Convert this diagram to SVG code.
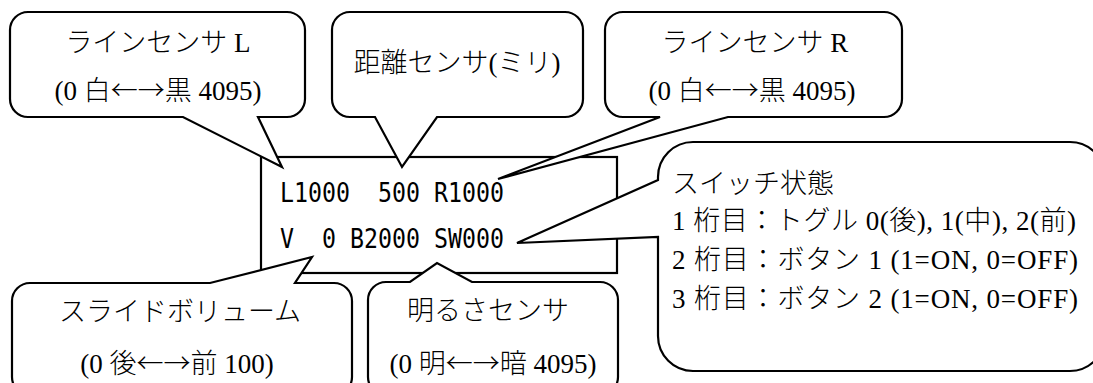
<svg xmlns="http://www.w3.org/2000/svg" width="1093" height="383" viewBox="0 0 1093 383">
<style>
.co{fill:#fff;stroke:#000;stroke-width:2.2;stroke-linejoin:miter}
.bx{fill:#fff;stroke:#000;stroke-width:2.2}
.t{font-family:"Liberation Serif","Noto Sans CJK JP",serif;font-size:27px;font-weight:300;fill:#000}
.m{text-anchor:middle}
.ar{font-family:"Noto Sans CJK JP","Liberation Serif",serif}
.mono{font-family:"DejaVu Sans Mono","Liberation Mono",monospace;font-size:27px;fill:#000}
</style>
<rect width="1093" height="383" fill="#fff"/>
<g id="display">
<rect class="bx" x="261" y="157" width="356" height="116"/>
<text class="mono" x="280" y="202" textLength="224" lengthAdjust="spacingAndGlyphs" xml:space="preserve">L1000  500 R1000</text>
<text class="mono" x="280" y="248" textLength="224" lengthAdjust="spacingAndGlyphs" xml:space="preserve">V  0 B2000 SW000</text>
</g>
<g id="line-sensor-l">
<path class="co" d="M28,12 H287 A18,18 0 0 1 305,30 V99 A18,18 0 0 1 287,117 H258 L282,167 L183,117 H28 A18,18 0 0 1 10,99 V30 A18,18 0 0 1 28,12 Z"/>
<text class="t m" x="158" y="52">ラインセンサ L</text>
<text class="t m" x="158" y="100">(0 白<tspan class="ar">←→</tspan>黒 4095)</text>
</g>
<g id="distance-sensor">
<path class="co" d="M350,12 H565 A18,18 0 0 1 583,30 V99 A18,18 0 0 1 565,117 H437 L402,167 L375,117 H350 A18,18 0 0 1 332,99 V30 A18,18 0 0 1 350,12 Z"/>
<text class="t m" x="457" y="72">距離センサ(ミリ)</text>
</g>
<g id="line-sensor-r">
<path class="co" d="M623,12 H884 A18,18 0 0 1 902,30 V99 A18,18 0 0 1 884,117 H728 L498,179 L660,117 H623 A18,18 0 0 1 605,99 V30 A18,18 0 0 1 623,12 Z"/>
<text class="t m" x="755" y="52">ラインセンサ R</text>
<text class="t m" x="752" y="100">(0 白<tspan class="ar">←→</tspan>黒 4095)</text>
</g>
<g id="switch-state">
<path class="co" d="M693,142 H1070 A35,35 0 0 1 1105,177 V336 A35,35 0 0 1 1070,371 H693 A35,35 0 0 1 658,336 V237 L517,243 L658,180 V177 A35,35 0 0 1 693,142 Z"/>
<text class="t" x="672" y="193">スイッチ状態</text>
<text class="t" x="672" y="230" textLength="404" lengthAdjust="spacing">1 桁目：トグル 0(後), 1(中), 2(前)</text>
<text class="t" x="672" y="269" textLength="406" lengthAdjust="spacing">2 桁目：ボタン 1 (1=ON, 0=OFF)</text>
<text class="t" x="672" y="308" textLength="406" lengthAdjust="spacing">3 桁目：ボタン 2 (1=ON, 0=OFF)</text>
</g>
<g id="slide-volume">
<path class="co" d="M30,283 H210 L312,257 L295,283 H334 A18,18 0 0 1 352,301 V377 A18,18 0 0 1 334,395 H30 A18,18 0 0 1 12,377 V301 A18,18 0 0 1 30,283 Z"/>
<text class="t m" x="180" y="321">スライドボリューム</text>
<text class="t m" x="177" y="373">(0 後<tspan class="ar">←→</tspan>前 100)</text>
</g>
<g id="brightness-sensor">
<path class="co" d="M386,282 H410 L437,263 L472,282 H600 A18,18 0 0 1 618,300 V377 A18,18 0 0 1 600,395 H386 A18,18 0 0 1 368,377 V300 A18,18 0 0 1 386,282 Z"/>
<text class="t m" x="488" y="320">明るさセンサ</text>
<text class="t m" x="493" y="373">(0 明<tspan class="ar">←→</tspan>暗 4095)</text>
</g>
</svg>
